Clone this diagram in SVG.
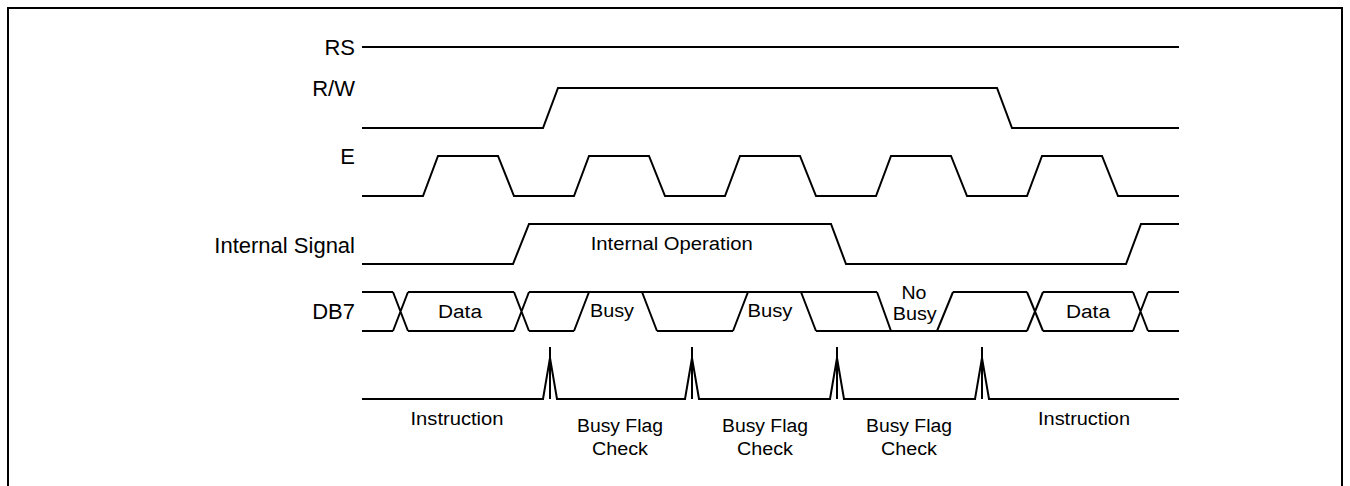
<svg xmlns="http://www.w3.org/2000/svg" width="1350" height="486" viewBox="0 0 1350 486">
<style>
.w{fill:none;stroke:#000;stroke-width:2;stroke-linejoin:miter}
.lbl{font-family:"Liberation Sans",Arial,sans-serif;font-size:22px;fill:#000;text-anchor:end}
.t{font-family:"Liberation Sans",Arial,sans-serif;font-size:18px;fill:#000;text-anchor:middle}
</style>
<rect x="0" y="0" width="1350" height="486" fill="#fff"/>
<rect x="8" y="8" width="1334" height="500" fill="none" stroke="#000" stroke-width="2"/>
<g id="labels">
<text class="lbl" x="355" y="55">RS</text>
<text class="lbl" x="355" y="96">R/W</text>
<text class="lbl" x="355" y="164">E</text>
<text class="lbl" x="355" y="253">Internal Signal</text>
<text class="lbl" x="355" y="319">DB7</text>
</g>
<g id="connectors">
<g id="rs"><path class="w" d="M362,47 H1179"/></g>
<g id="rw"><path class="w" d="M362,128 H543 L558,88 H997 L1012,128 H1179"/></g>
<g id="e"><path class="w" d="M362,196 H423 L438,156 H498 L514,196 H574 L589,156 H649 L665,196 H725 L740,156 H800 L816,196 H876 L891,156 H951 L967,196 H1027 L1042,156 H1102 L1118,196 H1179"/></g>
<g id="internal"><path class="w" d="M362,264 H513 L529,224 H831 L846,264 H1126 L1141,224 H1179"/></g>
<g id="db7">
<path class="w" d="M362,292 H393 M408,292 H514 M529,292 H877 M953,292 H1027 M1043,292 H1133 M1148,292 H1179"/>
<path class="w" d="M362,331 H393 M408,331 H514 M529,331 H574 M657,331 H733 M816,331 H1027 M1043,331 H1133 M1148,331 H1179"/>
<path class="w" d="M393,292 L408,331 M393,331 L408,292 M514,292 L529,331 M514,331 L529,292 M574,331 L589,292 M642,292 L657,331 M733,331 L748,292 M801,292 L816,331 M877,292 L891,331 M937,331 L953,292 M1027,292 L1043,331 M1027,331 L1043,292 M1133,292 L1148,331 M1133,331 L1148,292"/>
</g>
<g id="timeline">
<path class="w" d="M362,399 H543 L550,358 L557,399 H685 L692,358 L699,399 H830 L837,358 L844,399 H975 L982,358 L989,399 H1179"/>
<path class="w" d="M550,347 V399 M692,347 V399 M837,347 V399 M982,347 V399"/>
</g>
</g>
<g id="texts">
<text class="t" x="671.7" y="250" textLength="162" lengthAdjust="spacingAndGlyphs">Internal Operation</text>
<text class="t" x="460" y="317.5" textLength="44" lengthAdjust="spacingAndGlyphs">Data</text>
<text class="t" x="1088" y="317.5" textLength="44" lengthAdjust="spacingAndGlyphs">Data</text>
<text class="t" x="612" y="317" textLength="44" lengthAdjust="spacingAndGlyphs">Busy</text>
<text class="t" x="770" y="317" textLength="45" lengthAdjust="spacingAndGlyphs">Busy</text>
<text class="t" x="914" y="298.5" textLength="25" lengthAdjust="spacingAndGlyphs">No</text>
<text class="t" x="914.7" y="319.5" textLength="44" lengthAdjust="spacingAndGlyphs">Busy</text>
<text class="t" x="457" y="425" textLength="93" lengthAdjust="spacingAndGlyphs">Instruction</text>
<text class="t" x="1084" y="425" textLength="92" lengthAdjust="spacingAndGlyphs">Instruction</text>
<text class="t" x="620" y="432" textLength="86" lengthAdjust="spacingAndGlyphs">Busy Flag</text>
<text class="t" x="620" y="455" textLength="56" lengthAdjust="spacingAndGlyphs">Check</text>
<text class="t" x="765" y="432" textLength="86" lengthAdjust="spacingAndGlyphs">Busy Flag</text>
<text class="t" x="765" y="455" textLength="56" lengthAdjust="spacingAndGlyphs">Check</text>
<text class="t" x="909" y="432" textLength="86" lengthAdjust="spacingAndGlyphs">Busy Flag</text>
<text class="t" x="909" y="455" textLength="56" lengthAdjust="spacingAndGlyphs">Check</text>
</g>
</svg>
